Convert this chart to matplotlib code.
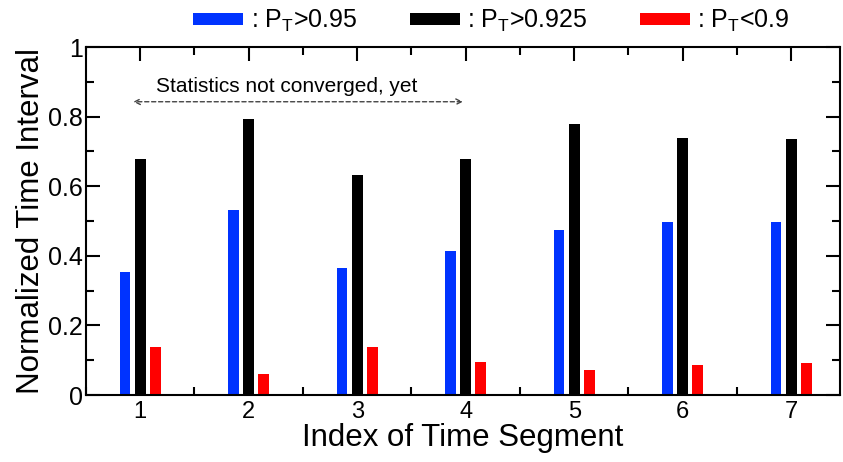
import matplotlib
matplotlib.use("Agg")
import matplotlib.pyplot as plt
from matplotlib.ticker import MultipleLocator, FixedLocator, FixedFormatter
import numpy as np

plt.rcParams['font.family'] = ['Liberation Sans', 'DejaVu Sans']
plt.rcParams['mathtext.fontset'] = 'custom'
plt.rcParams['mathtext.rm'] = 'Liberation Sans'
plt.rcParams['mathtext.it'] = 'Liberation Sans'

segments = [1, 2, 3, 4, 5, 6, 7]
p_gt_095 = [0.353, 0.532, 0.366, 0.415, 0.474, 0.496, 0.498]
p_gt_0925 = [0.678, 0.792, 0.631, 0.678, 0.779, 0.740, 0.736]
p_lt_09 = [0.138, 0.059, 0.138, 0.094, 0.072, 0.086, 0.091]
labels = [r': P$_{\mathrm{T}}$>0.95', r': P$_{\mathrm{T}}$>0.925', r': P$_{\mathrm{T}}$<0.9']
ytick_vals = [0, 0.2, 0.4, 0.6, 0.8, 1.0]
ytick_labels = ['0', '0.2', '0.4', '0.6', '0.8', '1']

fig = plt.figure(figsize=(8.43, 4.62), dpi=100)
ax = fig.add_axes([0.102, 0.145, 0.8944, 0.753])

x = np.array(segments, dtype=float)
w = 0.1
off = 0.14
b1 = ax.bar(x - off, p_gt_095, w, color='#0033ff', label=labels[0])
b2 = ax.bar(x, p_gt_0925, w, color='black', label=labels[1])
b3 = ax.bar(x + off, p_lt_09, w, color='#ff0000', label=labels[2])

ax.set_xlim(0.5, 7.45)
ax.set_ylim(0, 1)
ax.xaxis.set_major_locator(MultipleLocator(1))
ax.xaxis.set_minor_locator(MultipleLocator(0.5))
ax.yaxis.set_major_locator(FixedLocator(ytick_vals))
ax.yaxis.set_major_formatter(FixedFormatter(ytick_labels))
ax.yaxis.set_minor_locator(MultipleLocator(0.1))
ax.tick_params(which='both', direction='in', top=True, right=True, width=1.5)
ax.tick_params(which='major', length=10)
ax.tick_params(which='minor', length=6)
ax.tick_params(axis='x', labelsize=17, pad=4)
ax.tick_params(axis='y', labelsize=18, pad=2)
for s in ax.spines.values():
    s.set_linewidth(1.5)

ax.set_xlabel('Index of Time Segment', fontsize=22.5, labelpad=0)
ax.set_ylabel('Normalized Time Interval', fontsize=22.5, labelpad=2)

ax.annotate('', xy=(0.91, 0.843), xytext=(4.0, 0.843),
            arrowprops=dict(arrowstyle='<->', linestyle=(0, (3, 2)), color='#444444', lw=1.0))
ax.text(2.35, 0.888, 'Statistics not converged, yet', fontsize=15, ha='center', va='center')

fig.legend(handles=[b1, b2, b3], labels=labels, loc='center', bbox_to_anchor=(0.583, 0.955),
           ncol=3, frameon=False, fontsize=18, handlelength=2.0, handleheight=0.35,
           columnspacing=2.1, handletextpad=0.3)

fig.savefig('out.png', dpi=100)
